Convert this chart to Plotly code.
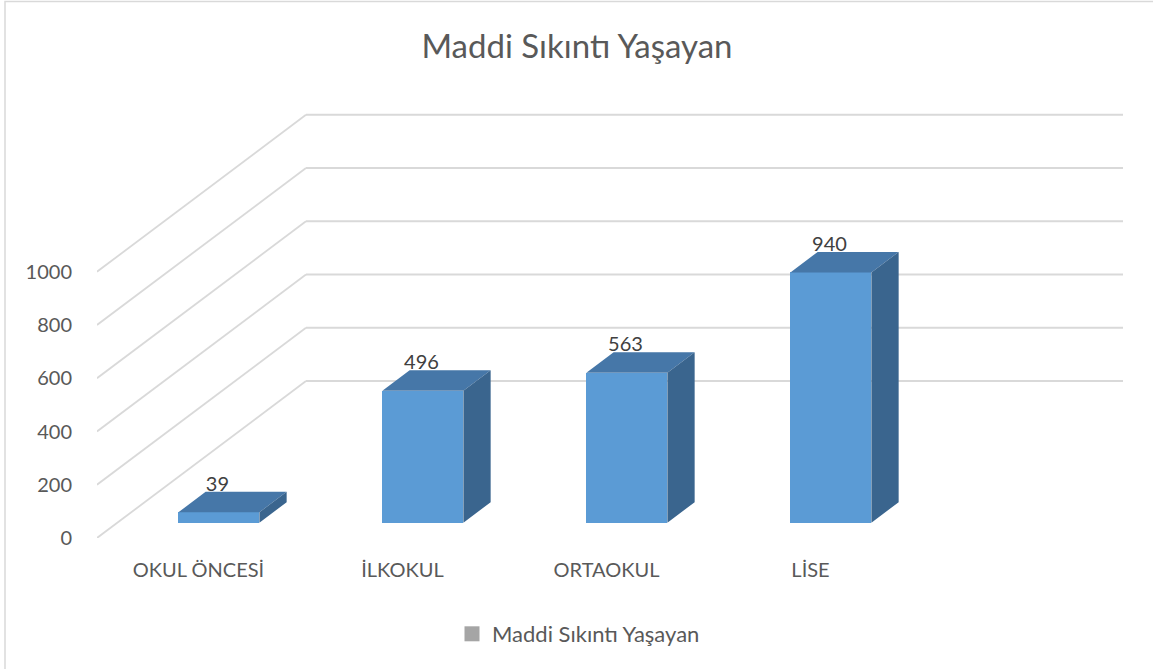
import plotly.graph_objects as go

# ---- data ----
categories = ["OKUL ÖNCESİ", "İLKOKUL", "ORTAOKUL", "LİSE"]
values = [39, 496, 563, 940]
series_name = "Maddi Sıkıntı Yaşayan"
y_ticks = [0, 200, 400, 600, 800, 1000]

# ---- 3D projection parameters (in axis units) ----
W, H = 1153, 669
L, R, T, B = 97, 30, 112, 131
PX_CAT = 204.0
X_START = -(198.5 - L) / PX_CAT
X_END = X_START + (W - L - R) / PX_CAT
Y_END = 1600
PX_VAL = (H - T - B) / Y_END
DX = 209 / PX_CAT          # full depth, x shift
DY = 157 / PX_VAL          # full depth, y shift
D0, D1 = 0.0975, 0.228     # bar depth band
BW = 81 / PX_CAT           # bar width

FRONT = "#5B9BD5"
TOP = "#4677A8"
SIDE = "#3A658E"
GRID = "#D9D9D9"
TXT = "#595959"
FONT = "Lato"

fig = go.Figure()

# gridlines (side wall + back wall), drawn below the bars
for v in y_ticks:
    fig.add_shape(type="line", xref="x", yref="y", x0=X_START, y0=v, x1=X_START + DX, y1=v + DY,
                  line=dict(color=GRID, width=1.8), layer="below")
    fig.add_shape(type="line", xref="x", yref="y", x0=X_START + DX, y0=v + DY, x1=X_END, y1=v + DY,
                  line=dict(color=GRID, width=1.8), layer="below")

base = D0 * DY
ddx = (D1 - D0) * DX
ddy = (D1 - D0) * DY
xs = [i + D0 * DX for i in range(len(categories))]

# front faces
fig.add_trace(go.Bar(x=xs, y=values, base=[base] * len(values), width=BW,
                     marker=dict(color=FRONT, line=dict(width=0)),
                     showlegend=False, hoverinfo="skip"))

# top and side faces
tx, ty, sx, sy = [], [], [], []
for xc, v in zip(xs, values):
    xl, xr = xc - BW / 2, xc + BW / 2
    tx += [xl, xr, xr + ddx, xl + ddx, xl, None]
    ty += [base + v, base + v, base + v + ddy, base + v + ddy, base + v, None]
    sx += [xr, xr, xr + ddx, xr + ddx, xr, None]
    sy += [base, base + v, base + v + ddy, base + ddy, base, None]
fig.add_trace(go.Scatter(x=tx, y=ty, fill="toself", fillcolor=TOP, mode="lines",
                         line=dict(width=0, color=TOP), hoverinfo="skip", showlegend=False))
fig.add_trace(go.Scatter(x=sx, y=sy, fill="toself", fillcolor=SIDE, mode="lines",
                         line=dict(width=0, color=SIDE), hoverinfo="skip", showlegend=False))

# data labels
fig.add_trace(go.Scatter(x=[x - 0.007 for x in xs], y=[base + v + 26.5 / PX_VAL for v in values],
                         mode="text", text=[str(v) for v in values], textposition="middle center",
                         textfont=dict(family=FONT, size=20, color="#404040"),
                         hoverinfo="skip", showlegend=False))

# legend entry
fig.add_trace(go.Scatter(x=[None], y=[None], mode="markers", name=series_name,
                         marker=dict(symbol="square", color="#A5A5A5", size=15)))

PW = W - L - R
PH = H - T - B
fig.add_shape(type="rect", xref="paper", yref="paper",
              x0=(5 - L) / PW, x1=(1200 - L) / PW,
              y0=(H - B - 720) / PH, y1=(H - B - 1.5) / PH,
              line=dict(color=GRID, width=1.5), fillcolor="rgba(0,0,0,0)", layer="below")

fig.update_layout(
    width=W, height=H,
    margin=dict(l=L, r=R, t=T, b=B, pad=0),
    paper_bgcolor="white", plot_bgcolor="white",
    font=dict(family=FONT, color=TXT, size=20),
    title=dict(text="Maddi Sıkıntı Yaşayan", x=577 / W, xanchor="center",
               y=1 - 46 / H, yanchor="middle",
               font=dict(family=FONT, size=33, color=TXT)),
    xaxis=dict(range=[X_START, X_END], tickvals=list(range(len(categories))), ticktext=categories,
               showgrid=False, zeroline=False, showline=False, ticks="",
               ticklabelstandoff=18, tickfont=dict(size=20, color=TXT), fixedrange=True),
    yaxis=dict(range=[0, Y_END], tickvals=y_ticks, showgrid=False, zeroline=False,
               showline=False, ticks="", ticklabelstandoff=24,
               tickfont=dict(size=20, color=TXT), fixedrange=True),
    legend=dict(orientation="h", x=(452 - L) / PW, xanchor="left",
                y=(H - B - 634) / PH, yanchor="middle",
                font=dict(size=22, color=TXT), bgcolor="rgba(0,0,0,0)"),
    showlegend=True,
    bargap=0,
)

fig.write_html("out.html", config={"displayModeBar": False},
               post_script="document.body.style.margin='0';document.body.style.overflow='hidden';")
